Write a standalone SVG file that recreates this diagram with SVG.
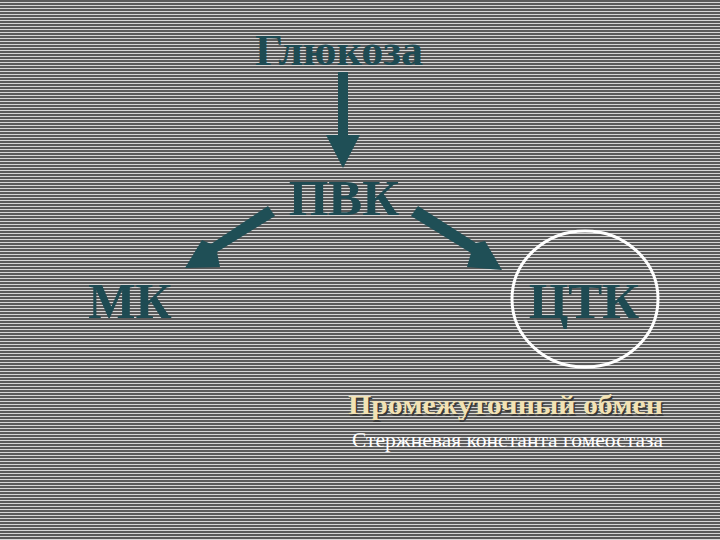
<svg xmlns="http://www.w3.org/2000/svg" width="720" height="540" viewBox="0 0 720 540">
<defs>
<pattern id="bg" width="6" height="3" patternUnits="userSpaceOnUse">
<rect width="6" height="3" fill="#5a5a5a"/>
<rect y="2" width="6" height="1" fill="#d6d6d6"/>
</pattern>
<style>
.lbl{font-family:"Liberation Serif","Times New Roman",serif;font-weight:bold;fill:#1e4b53}
.arr{fill:#1f4f56}
</style>
</defs>
<rect width="720" height="540" fill="url(#bg)"/>
<g id="glucose"><text class="lbl" x="339" y="65" font-size="44" text-anchor="middle">Глюкоза</text></g>
<g id="pvk"><text class="lbl" x="344" y="215" font-size="51" text-anchor="middle">ПВК</text></g>
<g id="mk"><text class="lbl" x="130" y="318" font-size="50" text-anchor="middle">МК</text></g>
<g id="tck">
<ellipse cx="585" cy="299" rx="73" ry="68" fill="none" stroke="#ffffff" stroke-width="3"/>
<text class="lbl" x="584" y="318" font-size="51" text-anchor="middle">ЦТК</text>
</g>
<g id="connectors">
<polygon class="arr" points="338,72 348,72 348,135 360,135 343,168 326,135 338,135"/>
<polygon class="arr" points="268,206 275,216 217,252 220,267 185,268 202,240 211,244"/>
<polygon class="arr" points="411,216 418,206 476,243 485,241 502,270 467,267 471,253"/>
</g>
<g id="caption">
<text x="348" y="414" textLength="315" lengthAdjust="spacingAndGlyphs" font-family="Liberation Serif,serif" font-weight="bold" font-size="27" fill="#3a3a3a" transform="translate(1.5,1.5)">Промежуточный обмен</text>
<text x="348" y="414" textLength="315" lengthAdjust="spacingAndGlyphs" font-family="Liberation Serif,serif" font-weight="bold" font-size="27" fill="#f2e2b4">Промежуточный обмен</text>
<text x="352" y="447" textLength="311" lengthAdjust="spacingAndGlyphs" font-family="Liberation Serif,serif" font-size="21" fill="#ffffff">Стержневая константа гомеостаза</text>
</g>
</svg>
